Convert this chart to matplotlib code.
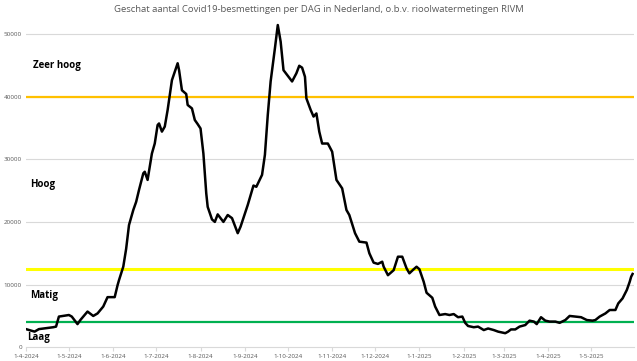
import pandas as pd
import matplotlib.pyplot as plt
import matplotlib.dates as mdates

# === Data ===
START = pd.Timestamp("2024-04-01")
END = pd.Timestamp("2025-05-31")

DAYS = [0, 6, 9, 19, 21, 23, 30, 32, 36, 38, 43, 47, 50, 54, 57, 62, 64, 65, 68, 70,
        72, 75, 77, 79, 82, 83, 85, 88, 90, 92, 93, 95, 97, 99, 102, 104, 106, 107, 109, 112,
        113, 116, 118, 120, 122, 124, 126, 127, 130, 132, 134, 138, 141, 144, 148, 150, 155, 159, 161, 165,
        167, 169, 171, 174, 176, 178, 180, 183, 186, 189, 191, 193, 195, 196, 199, 201, 203, 205, 207, 211,
        214, 217, 221, 224, 226, 230, 233, 238, 240, 243, 246, 249, 250, 253, 257, 260, 263, 266, 268, 271,
        273, 275, 278, 280, 284, 286, 289, 293, 296, 299, 302, 305, 307, 309, 313, 316, 320, 323, 327, 330,
        335, 337, 339, 342, 345, 349, 352, 355, 357, 360, 363, 366, 370, 373, 377, 380, 384, 388, 392, 396,
        398, 401, 405, 408, 412, 414, 417, 420, 422, 423, 424]

BESMETTINGEN = [2900, 2500, 2900, 3200, 3300, 4900, 5150, 4900, 3700, 4350, 5700, 5000, 5400, 6500, 8000, 8000, 9900, 10700, 12860, 15700,
                19500, 21900, 23200, 25100, 27750, 28000, 26700, 30900, 32500, 35450, 35700, 34400, 35200, 37850, 42600, 43950, 45300, 44200, 41000, 40400,
                38650, 38100, 36250, 35600, 34900, 30900, 24550, 22400, 20400, 20000, 21200, 20000, 21100, 20600, 18200, 19250, 22700, 25800, 25600, 27500,
                30700, 37050, 42400, 47700, 51400, 48750, 44200, 43300, 42400, 43700, 44900, 44600, 43150, 39700, 37850, 36800, 37300, 34400, 32500, 32500,
                31200, 26700, 25350, 21900, 21100, 18200, 16850, 16700, 15000, 13500, 13300, 13650, 12860, 11500, 12300, 14450, 14450, 12600, 11800, 12450,
                12850, 12450, 10450, 8700, 7900, 6500, 5150, 5300, 5150, 5300, 4800, 4900, 3900, 3400, 3200, 3300, 2750, 3000, 2750, 2500,
                2250, 2500, 2850, 2850, 3300, 3550, 4250, 4100, 3700, 4800, 4250, 4100, 4100, 3900, 4350, 5000, 4900, 4800, 4350, 4250,
                4350, 4900, 5400, 5950, 5950, 7000, 7800, 9150, 10450, 11250, 11700]

# drempels
GRENZEN = [40000, 12500, 4000]
GRENS_KLEUR = ["#FFC000", "#FFFF00", "#00B050"]
GRENS_DIKTE = [1.6, 2.2, 1.6]

NIVEAUS = ["Zeer hoog", "Hoog", "Matig", "Laag"]
NIVEAU_Y = [44900, 26000, 8200, 1500]
NIVEAU_DAG = [5, 3, 3, 1]

TITEL = "Geschat aantal Covid19-besmettingen per DAG in Nederland, o.b.v. rioolwatermetingen RIVM"

plt.rcParams['font.family'] = ['Open Sans', 'DejaVu Sans']

datums = [START + pd.Timedelta(days=d) for d in DAYS]

fig = plt.figure(figsize=(6.37, 3.61), dpi=100)
ax = fig.add_axes([26 / 637, 13.7 / 361, 608 / 637, 332.3 / 361])

for y in range(10000, 60000, 10000):
    ax.axhline(y, color="#D9D9D9", lw=0.8, zorder=0)

for g, c, w in zip(GRENZEN, GRENS_KLEUR, GRENS_DIKTE):
    ax.axhline(g, color=c, lw=w, zorder=2)

ax.plot(datums, BESMETTINGEN, color="black", lw=1.8, solid_joinstyle="round", zorder=3)

for t, y, d in zip(NIVEAUS, NIVEAU_Y, NIVEAU_DAG):
    ax.text(START + pd.Timedelta(days=d), y, t, fontsize=7, fontweight="bold",
            color="black", va="center", ha="left")

ax.set_xlim(START, END)
ax.set_ylim(0, 53000)

maanden = pd.date_range("2024-04-01", "2025-05-01", freq="MS")
ax.set_xticks(maanden)
ax.set_xticklabels([f"{m.day}-{m.month}-{m.year}" for m in maanden])
ax.set_yticks(range(0, 60000, 10000))
ax.set_yticklabels([str(v) for v in range(0, 60000, 10000)])
ax.tick_params(axis="both", labelsize=4.5, colors="#595959", length=0, pad=3)
ax.tick_params(axis="x", length=3, color="#D9D9D9", direction="out", pad=2)

for s in ["top", "right", "left"]:
    ax.spines[s].set_visible(False)
ax.spines["bottom"].set_color("#D9D9D9")
ax.spines["bottom"].set_linewidth(0.8)

fig.text(0.5, 1 - 10 / 361, TITEL, ha="center", va="center", fontsize=6.8, color="#595959")

fig.savefig("out.png", dpi=100)
